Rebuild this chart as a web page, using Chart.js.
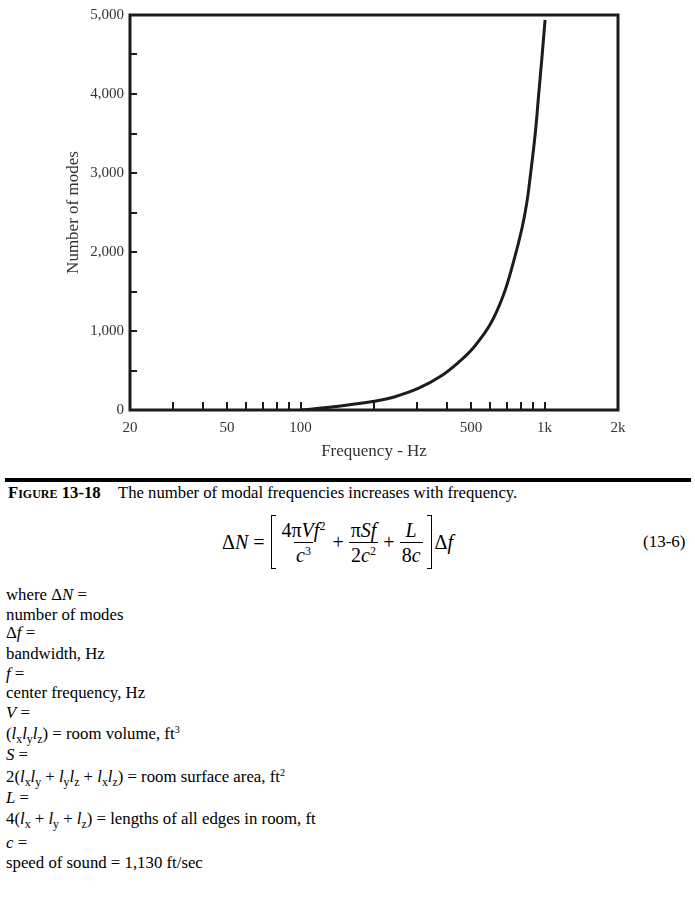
<!DOCTYPE html>
<html lang="en">
<head>
<meta charset="UTF-8">
<title>Number of modes vs frequency</title>
<script src="https://cdn.jsdelivr.net/npm/chart.js"></script>
<style>
    body { margin: 0; background: #fff; color: #000; font-family: 'Liberation Serif', 'Times New Roman', serif; }
    .page { position: relative; width: 695px; height: 900px; overflow: hidden; }
    .chart-box { position: absolute; left: 0; top: 0; width: 695px; height: 470px; }

    /* figure caption + rule */
    .rule { position: absolute; left: 5px; top: 478px; width: 686px; height: 4px; background: #000; }
    .caption { position: absolute; left: 8px; top: 483px; font-size: 16.7px; line-height: 20px; white-space: nowrap; }
    .caption b { font-variant: small-caps; display: inline-block; width: 110px; }

    /* equation 13-6 */
    .eq { position: absolute; left: 222px; top: 513px; height: 58px; display: flex; align-items: center; font-size: 20px; white-space: nowrap; }
    .frac { display: inline-flex; flex-direction: column; align-items: center; margin: 0 3px; }
    .frac > span { padding: 0 2px; line-height: 24px; }
    .frac .den { border-top: 1px solid #000; }
    .op { margin: 0 2px; }
    .bl, .br { width: 5px; height: 54px; border: 1.5px solid #000; box-sizing: border-box; }
    .bl { border-right: none; margin: 0 1px 0 6px; }
    .br { border-left: none; margin: 0 3px 0 1px; }
    .eqnum { position: absolute; left: 643px; top: 532px; font-size: 17px; }
    sup { font-size: 0.6em; vertical-align: 0.6em; line-height: 0; }
    sub { font-size: 0.7em; vertical-align: -0.3em; line-height: 0; }

    /* where-list */
    .ln { position: absolute; left: 6px; font-size: 16.8px; line-height: 20px; white-space: nowrap; }
</style>
</head>
<body>
<div class="page">
    <div class="chart-box">
        <canvas id="modesChart" width="695" height="470"></canvas>
    </div>

    <div class="rule"></div>
    <div class="caption"><b>Figure 13-18</b>The number of modal frequencies increases with frequency.</div>

    <div class="eq">
        <span>Δ<i>N</i>&nbsp;=</span>
        <span class="bl"></span>
        <span class="frac"><span>4π<i>Vf</i><sup>2</sup></span><span class="den"><i>c</i><sup>3</sup></span></span>
        <span class="op">+</span>
        <span class="frac"><span>π<i>Sf</i></span><span class="den">2<i>c</i><sup>2</sup></span></span>
        <span class="op">+</span>
        <span class="frac"><span><i>L</i></span><span class="den">8<i>c</i></span></span>
        <span class="br"></span>
        <span>Δ<i>f</i></span>
    </div>
    <div class="eqnum">(13-6)</div>

    <div class="ln" style="top:585px">where Δ<i>N</i> =</div>
    <div class="ln" style="top:605px">number of modes</div>
    <div class="ln" style="top:623px">Δ<i>f</i> =</div>
    <div class="ln" style="top:644px">bandwidth, Hz</div>
    <div class="ln" style="top:664px"><i>f</i> =</div>
    <div class="ln" style="top:683px">center frequency, Hz</div>
    <div class="ln" style="top:703px"><i>V</i> =</div>
    <div class="ln" style="top:724px">(<i>l</i><sub>x</sub><i>l</i><sub>y</sub><i>l</i><sub>z</sub>) = room volume, ft<sup>3</sup></div>
    <div class="ln" style="top:745px"><i>S</i> =</div>
    <div class="ln" style="top:767px">2(<i>l</i><sub>x</sub><i>l</i><sub>y</sub> + <i>l</i><sub>y</sub><i>l</i><sub>z</sub> + <i>l</i><sub>x</sub><i>l</i><sub>z</sub>) = room surface area, ft<sup>2</sup></div>
    <div class="ln" style="top:788px"><i>L</i> =</div>
    <div class="ln" style="top:809px">4(<i>l</i><sub>x</sub> + <i>l</i><sub>y</sub> + <i>l</i><sub>z</sub>) = lengths of all edges in room, ft</div>
    <div class="ln" style="top:833px"><i>c</i> =</div>
    <div class="ln" style="top:853px">speed of sound = 1,130 ft/sec</div>
</div>

<script>
    // values
    const freqHz = [100, 128, 201, 240, 305, 375, 452, 512, 599, 679, 746, 807, 846, 874, 916, 945, 975, 1005];
    const modeCount = [0, 31, 112, 162, 276, 426, 625, 791, 1084, 1459, 1875, 2291, 2625, 2959, 3500, 3975, 4450, 4938];

    // axis ticks
    const xTickValues = [20, 50, 100, 500, 1000, 2000];
    const xTickLabels = ['20', '50', '100', '500', '1k', '2k'];
    const xInnerTicks = [30, 40, 50, 60, 70, 80, 90, 100, 200, 300, 400, 500, 600, 700, 800, 900, 1000];
    const yTickValues = [0, 1000, 2000, 3000, 4000, 5000];
    const yInnerTicks = [500, 1000, 1500, 2000, 2500, 3000, 3500, 4000, 4500];

    const ink = '#1c1c1c';
    const labelFont = { family: 'Liberation Serif', size: 15 };
    const titleFont = { family: 'Liberation Serif', size: 17 };

    // box frame plus the short inward tick marks
    const frameTicks = {
        id: 'frameTicks',
        afterDatasetsDraw(chart) {
            const { ctx, chartArea: a, scales: { x, y } } = chart;
            ctx.save();
            ctx.strokeStyle = ink;
            ctx.lineWidth = 2;
            xInnerTicks.forEach(v => {
                const px = Math.round(x.getPixelForValue(v));
                ctx.beginPath();
                ctx.moveTo(px, a.bottom);
                ctx.lineTo(px, a.bottom - 8);
                ctx.stroke();
            });
            yInnerTicks.forEach(v => {
                const py = Math.round(y.getPixelForValue(v));
                ctx.beginPath();
                ctx.moveTo(a.left, py);
                ctx.lineTo(a.left + 7, py);
                ctx.stroke();
            });
            ctx.lineWidth = 3;
            ctx.strokeRect(a.left, a.top, a.right - a.left, a.bottom - a.top);
            ctx.restore();
        }
    };

    new Chart(document.getElementById('modesChart'), {
        type: 'line',
        data: {
            datasets: [{
                data: freqHz.map((f, i) => ({ x: f, y: modeCount[i] })),
                borderColor: ink,
                borderWidth: 3,
                pointRadius: 0,
                fill: false,
                tension: 0.4
            }]
        },
        options: {
            responsive: false,
            animation: false,
            devicePixelRatio: 1,
            layout: { padding: { left: 60, right: 77, top: 10, bottom: 0 } },
            plugins: { legend: { display: false }, tooltip: { enabled: false } },
            scales: {
                x: {
                    type: 'logarithmic',
                    min: 20,
                    max: 2000,
                    grid: { display: false, drawTicks: false },
                    border: { display: false },
                    afterBuildTicks: s => { s.ticks = xTickValues.map(v => ({ value: v })); },
                    afterFit: s => { s.height = 60; },
                    ticks: {
                        autoSkip: false,
                        maxRotation: 0,
                        padding: 9,
                        color: '#333',
                        font: labelFont,
                        callback: v => {
                            const i = xTickValues.indexOf(v);
                            return i < 0 ? '' : xTickLabels[i];
                        }
                    },
                    title: {
                        display: true,
                        text: 'Frequency - Hz',
                        color: '#333',
                        font: titleFont,
                        padding: { top: 0, bottom: 8 }
                    }
                },
                y: {
                    min: 0,
                    max: 5000,
                    grid: { display: false, drawTicks: false },
                    border: { display: false },
                    afterBuildTicks: s => { s.ticks = yTickValues.map(v => ({ value: v })); },
                    afterFit: s => { s.width = 70; },
                    ticks: {
                        padding: 6,
                        color: '#333',
                        font: labelFont,
                        callback: v => v.toLocaleString('en-US')
                    },
                    title: {
                        display: true,
                        text: 'Number of modes',
                        color: '#333',
                        font: titleFont,
                        padding: { top: 3, bottom: 0 }
                    }
                }
            }
        },
        plugins: [frameTicks]
    });
</script>
</body>
</html>
